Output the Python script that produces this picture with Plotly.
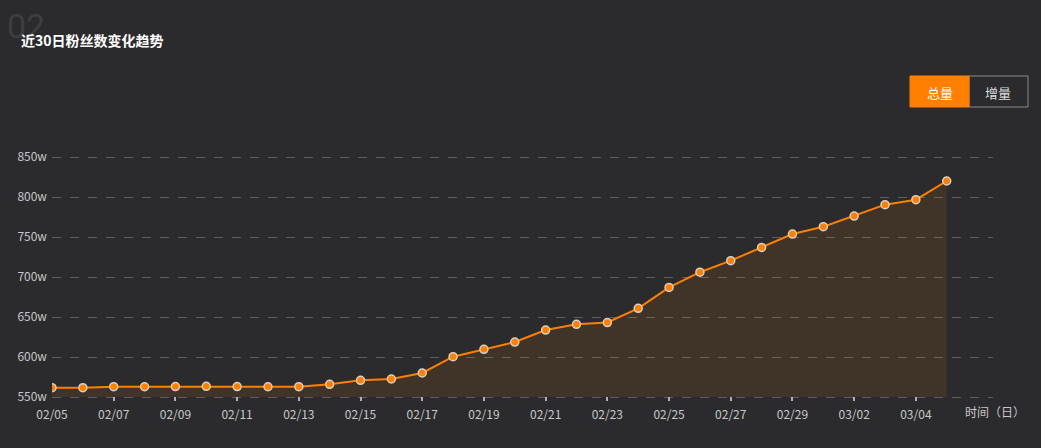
import plotly.graph_objects as go

# dates shown on the x axis (2024, so 02/29 exists)
dates = ['02/05', '02/06', '02/07', '02/08', '02/09', '02/10', '02/11', '02/12',
         '02/13', '02/14', '02/15', '02/16', '02/17', '02/18', '02/19', '02/20',
         '02/21', '02/22', '02/23', '02/24', '02/25', '02/26', '02/27', '02/28',
         '02/29', '03/01', '03/02', '03/03', '03/04', '03/05']

# total fans, in units of w (10k)
fans = [561.6, 561.6, 562.9, 562.8, 563.0, 563.4, 563.0, 562.8,
        562.9, 565.8, 570.8, 572.5, 580.0, 600.4, 609.6, 618.7,
        633.7, 640.8, 643.1, 660.8, 687.0, 706.0, 720.4, 737.0,
        753.7, 762.9, 776.2, 790.4, 796.6, 820.0]

y_ticks = [550, 600, 650, 700, 750, 800, 850]
y_labels = [str(v) + 'w' for v in y_ticks]

bg = '#2b2b2d'
orange = '#ff7f00'
txt = '#c8c8c8'

# plot area in pixels: x 52..993, y 153..401 (550w sits at 397, 850w at 157)
L, R, T, B = 52, 993, 153, 401


def px_(p):
    return (p - L) / float(R - L)


def py(p):
    return (B - p) / float(B - T)


fig = go.Figure()
# invisible baseline so the area stops at the 550w line
fig.add_trace(go.Scatter(
    x=dates, y=[y_ticks[0]] * len(dates), mode='lines',
    line=dict(width=0), hoverinfo='skip', showlegend=False,
))
fig.add_trace(go.Scatter(
    x=dates, y=fans, mode='lines+markers',
    line=dict(color=orange, width=2),
    marker=dict(size=8, color=orange, line=dict(color='#d8d0c8', width=1.5)),
    fill='tonexty', fillcolor='rgba(255,127,0,0.1)',
    hoverinfo='x+y', showlegend=False,
))

fig.update_layout(
    width=1041, height=448,
    paper_bgcolor=bg, plot_bgcolor=bg,
    margin=dict(l=L, r=1041 - R, t=T, b=448 - B),
    font=dict(family='Noto Sans CJK SC, Noto Sans, sans-serif', color=txt, size=12),
    xaxis=dict(
        type='category', range=[0, 30.5],
        tickvals=dates[::2], ticktext=dates[::2],
        showgrid=False, zeroline=False, showline=False,
        ticks='inside', ticklen=4, tickcolor='#b0b0b0', tickwidth=1.5,
        ticklabelstandoff=5,
        tickfont=dict(color=txt, size=12),
    ),
    yaxis=dict(
        range=[545, 855], tickvals=y_ticks, ticktext=y_labels,
        showgrid=True, gridcolor='#5e5e60', griddash='dash', gridwidth=1,
        zeroline=False, showline=False, ticks='', ticklabelstandoff=4,
        tickfont=dict(color=txt, size=12),
    ),
)

# big faint section number and chart title
fig.add_annotation(xref='paper', yref='paper', x=px_(5), y=py(26), text='02',
                   showarrow=False, xanchor='left', yanchor='middle',
                   font=dict(size=34, color='#3e3e40', family='Roboto, sans-serif'))
fig.add_annotation(xref='paper', yref='paper', x=px_(19), y=py(40),
                   text='<b>近30日粉丝数变化趋势</b>', showarrow=False,
                   xanchor='left', yanchor='middle',
                   font=dict(size=14, color='#ffffff'))

# toggle buttons (总量 active, 增量 idle)
fig.add_shape(type='rect', xref='paper', yref='paper',
              x0=px_(969), x1=px_(1028), y0=py(107), y1=py(76),
              fillcolor=bg, line=dict(color='#8a8a8a', width=1))
fig.add_shape(type='rect', xref='paper', yref='paper',
              x0=px_(910), x1=px_(969), y0=py(107), y1=py(76),
              fillcolor=orange, line=dict(color=orange, width=1))
fig.add_annotation(xref='paper', yref='paper', x=px_(939.5), y=py(92),
                   text='总量', showarrow=False, xanchor='center', yanchor='middle',
                   font=dict(size=13, color='#ffffff'))
fig.add_annotation(xref='paper', yref='paper', x=px_(998.5), y=py(92),
                   text='增量', showarrow=False, xanchor='center', yanchor='middle',
                   font=dict(size=13, color='#dddddd'))

# axis name
fig.add_annotation(xref='paper', yref='paper', x=px_(963), y=py(411),
                   text='时间（日）', showarrow=False, xanchor='left', yanchor='middle',
                   font=dict(size=12, color=txt))

fig.write_html('out.html', config={'displayModeBar': False},
               post_script="document.body.style.margin='0';")
